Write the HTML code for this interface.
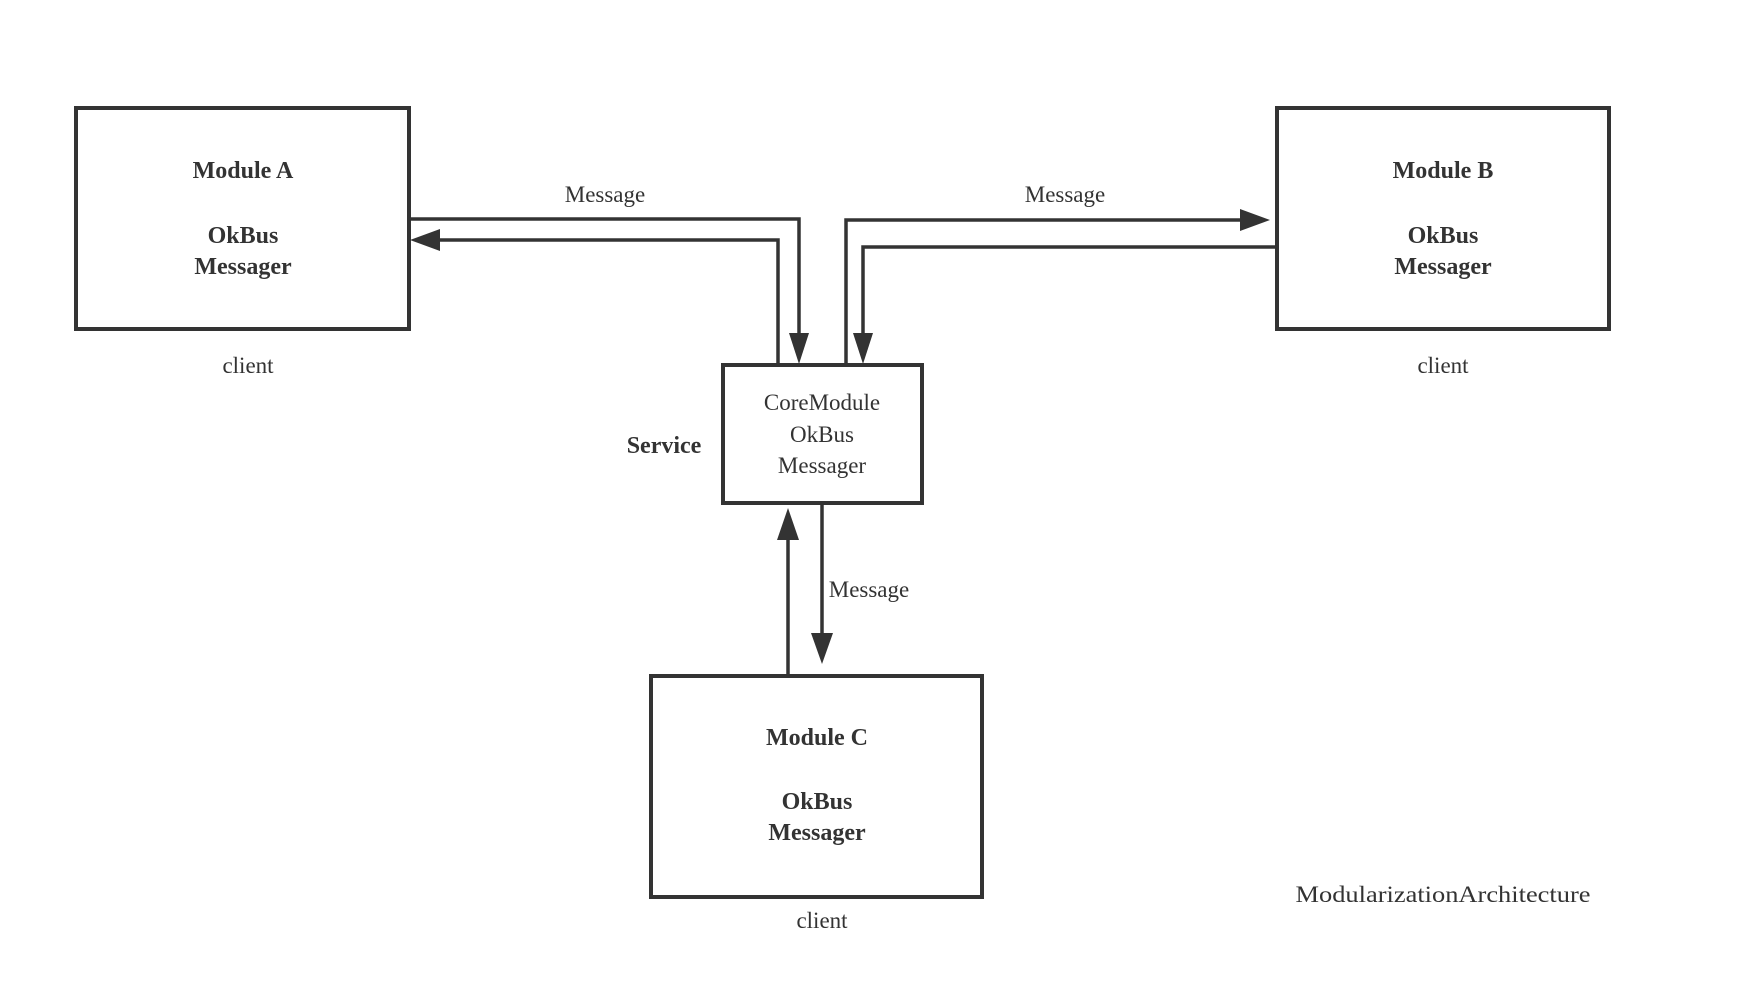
<!DOCTYPE html>
<html><head><meta charset="utf-8"><style>html,body{margin:0;padding:0;background:#fff;}</style></head>
<body>
<svg width="1740" height="982" viewBox="0 0 1740 982" xmlns="http://www.w3.org/2000/svg" font-family="Liberation Serif, serif" fill="#333">
<g fill="none" stroke="#333" stroke-width="4">
<rect x="76" y="108" width="333" height="221"/>
<rect x="1277" y="108" width="332" height="221"/>
<rect x="723" y="365" width="199" height="138"/>
<rect x="651" y="676" width="331" height="221"/>
</g>
<g fill="none" stroke="#333" stroke-width="3.5">
<polyline points="409,219 799,219 799,340"/>
<polyline points="778,364 778,240 432,240"/>
<polyline points="846,364 846,220 1240,220"/>
<polyline points="1277,247 863,247 863,340"/>
<line x1="788" y1="676" x2="788" y2="535"/>
<line x1="822" y1="503" x2="822" y2="635"/>
</g>
<g fill="#333">
<polygon points="789,333 809,333 799,364"/>
<polygon points="853,333 873,333 863,364"/>
<polygon points="440,229 440,251 410,240"/>
<polygon points="1240,209 1240,231 1270,220"/>
<polygon points="777,540 799,540 788,508"/>
<polygon points="811,633 833,633 822,664"/>
</g>
<g font-size="24" text-anchor="middle" font-weight="bold">
<text x="243" y="178">Module A</text>
<text x="243" y="243">OkBus</text>
<text x="243" y="274">Messager</text>
<text x="1443" y="178">Module B</text>
<text x="1443" y="243">OkBus</text>
<text x="1443" y="274">Messager</text>
<text x="817" y="745">Module C</text>
<text x="817" y="809">OkBus</text>
<text x="817" y="840">Messager</text>
<text x="664" y="453">Service</text>
</g>
<g font-size="23" text-anchor="middle">
<text x="822" y="410">CoreModule</text>
<text x="822" y="442">OkBus</text>
<text x="822" y="473">Messager</text>
<text x="248" y="373">client</text>
<text x="1443" y="373">client</text>
<text x="822" y="928">client</text>
<text x="605" y="202">Message</text>
<text x="1065" y="202">Message</text>
<text x="869" y="597">Message</text>
<text x="1443" y="902" textLength="295" lengthAdjust="spacingAndGlyphs">ModularizationArchitecture</text>
</g>
</svg>
</body></html>
